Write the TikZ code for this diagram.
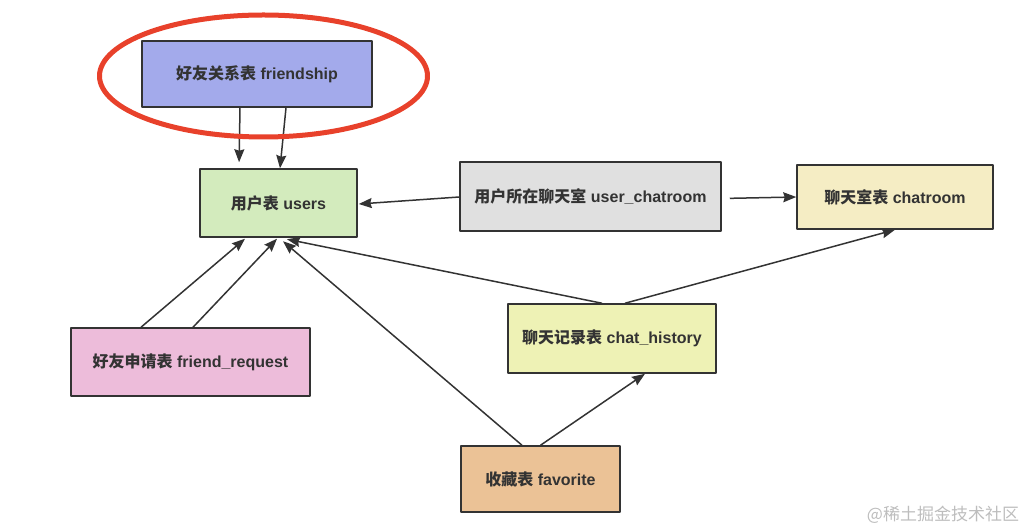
\documentclass[tikz,border=0pt]{standalone}
\usepackage{fontspec}
\setmainfont{Liberation Sans}
\newfontfamily\cjk{Noto Sans CJK SC}
\usetikzlibrary{arrows.meta}
\definecolor{edgegray}{HTML}{333333}
\definecolor{fillfriend}{HTML}{A3AAEB}
\definecolor{fillusers}{HTML}{D3EBBD}
\definecolor{filluchat}{HTML}{E0E0E0}
\definecolor{fillchat}{HTML}{F5EDC4}
\definecolor{fillhist}{HTML}{EEF2B5}
\definecolor{fillreq}{HTML}{EDBCDA}
\definecolor{fillfav}{HTML}{EBC296}
\definecolor{markred}{HTML}{E8412B}
\definecolor{wmgray}{HTML}{BDBDBD}
\newcommand{\tlabel}[2]{{\cjk\bfseries #1} \textbf{#2}}
\begin{document}
\begin{tikzpicture}[>={Stealth[length=13bp,width=10bp,inset=1.5bp]},line join=bevel,
  tbl/.style={draw=edgegray,line width=1.5bp,text=edgegray,inner sep=0pt,font=\fontsize{16bp}{19bp}\selectfont},
  link/.style={edgegray,line width=1.5bp,->}]
\useasboundingbox (0bp,0bp) rectangle (1032bp,532bp);
%%
\node (friendship) at (257.0bp,458.0bp) [tbl,fill=fillfriend,minimum width=230bp,minimum height=66bp] {\tlabel{好友关系表}{friendship}};
  \node (users) at (278.5bp,329.0bp) [tbl,fill=fillusers,minimum width=157bp,minimum height=68bp] {\tlabel{用户表}{users}};
  \node (user_chatroom) at (590.5bp,335.5bp) [tbl,fill=filluchat,minimum width=261bp,minimum height=69bp] {\tlabel{用户所在聊天室}{user\_chatroom}};
  \node (chatroom) at (895.0bp,335.0bp) [tbl,fill=fillchat,minimum width=196bp,minimum height=64bp] {\tlabel{聊天室表}{chatroom}};
  \node (chat_history) at (612.0bp,193.5bp) [tbl,fill=fillhist,minimum width=208bp,minimum height=69bp] {\tlabel{聊天记录表}{chat\_history}};
  \node (friend_request) at (190.5bp,170.0bp) [tbl,fill=fillreq,minimum width=239bp,minimum height=68bp] {\tlabel{好友申请表}{friend\_request}};
  \node (favorite) at (540.5bp,53.0bp) [tbl,fill=fillfav,minimum width=159bp,minimum height=66bp] {\tlabel{收藏表}{favorite}};
%
  \draw [link,shorten >=6bp] ([xshift=-17bp]friendship.south) -- ([xshift=-39.5bp]users.north);
  \draw [link] ([xshift=29bp]friendship.south) -- ([xshift=1.5bp]users.north);
  \draw [link] ([yshift=-0.5bp]user_chatroom.west) -- ([xshift=1bp,yshift=-1bp]users.east);
  \draw [link,shorten <=8bp] ([yshift=-2bp]user_chatroom.east) -- (chatroom.west);
  \draw [link] ([xshift=13bp]chat_history.north) -- (chatroom.south);
  \draw [link] ([xshift=-10bp]chat_history.north) -- ([xshift=8.5bp,yshift=-1.5bp]users.south);
  \draw [link] ([xshift=-18.5bp]favorite.north) -- ([xshift=4.5bp,yshift=-3.5bp]users.south);
  \draw [link] (favorite.north) -- ([xshift=33bp]chat_history.south);
  \draw [link] ([xshift=-49.5bp]friend_request.north) -- ([xshift=-33.5bp,yshift=-1bp]users.south);
  \draw [link] ([xshift=2.5bp]friend_request.north) -- ([xshift=-1.5bp,yshift=-1bp]users.south);
%
  \draw [markred,line width=5bp] (263.5bp,456.0bp) ellipse [x radius=164bp,y radius=61bp];
  \node (watermark) at (943.0bp,17.0bp) [text=wmgray,font=\fontsize{17bp}{20bp}\selectfont] {{\cjk @稀土掘金技术社区}};
%
\end{tikzpicture}
\end{document}
